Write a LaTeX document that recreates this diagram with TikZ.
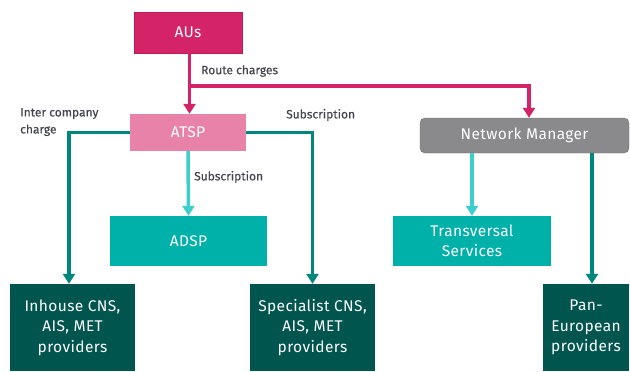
\documentclass[tikz,border=0pt]{standalone}
\usepackage{fontspec}
\setmainfont{Fira Sans}
\newfontfamily\boxfont[LetterSpace=2.5]{Fira Sans}
\newfontfamily\lblfont[FakeBold=0.4]{Fira Sans}
\usetikzlibrary{arrows.meta,calc}
\definecolor{aus}{HTML}{D42467}
\definecolor{atsp}{HTML}{E882A8}
\definecolor{nmgray}{HTML}{8A8A8C}
\definecolor{nmborder}{HTML}{6E6E70}
\definecolor{midteal}{HTML}{00B1A9}
\definecolor{darkteal}{HTML}{00564F}
\definecolor{lineteal}{HTML}{00877D}
\definecolor{linecyan}{HTML}{3CCFCB}
\definecolor{labelgray}{HTML}{44444F}
\tikzset{
  box/.style={rectangle, inner sep=0pt, align=center, text=white, font=\boxfont\fontsize{15.5}{20.5}\selectfont},
  lbl/.style={inner sep=0pt, text=labelgray, font=\lblfont\fontsize{12}{17}\selectfont, align=left},
  conn/.style={line width=3.5pt, -{Triangle[length=10pt,width=12pt]}},
  link/.style={line width=3.5pt}
}
\begin{document}
\begin{tikzpicture}[x=1pt,y=-1pt]
\useasboundingbox (0,0) rectangle (630,372);
\node[box, fill=aus, draw=aus!85!black, minimum width=108pt, minimum height=41pt] (AU) at (188,32.5) {AUs};
\node[box, fill=atsp, minimum width=116pt, minimum height=37pt] (ATSP) at (188,132.5) {ATSP};
\node[box, fill=nmgray, draw=nmborder, rounded corners=5pt, minimum width=209pt, minimum height=35pt] (NM) at (524.5,135.5) {Network Manager};
\node[box, fill=midteal, minimum width=157pt, minimum height=50pt] (ADSP) at (188.5,241) {ADSP};
\node[box, fill=midteal, minimum width=158pt, minimum height=50pt] (TS) at (472,241) {Transversal\\Services};
\node[box, fill=darkteal, minimum width=125pt, minimum height=87pt] (IH) at (72.5,327.5) {Inhouse CNS,\\AIS, MET\\providers};
\node[box, fill=darkteal, minimum width=125pt, minimum height=87pt] (SP) at (312.5,327.5) {Specialist CNS,\\AIS, MET\\providers};
\node[box, fill=darkteal, minimum width=86pt, minimum height=87pt] (PE) at (586,327.5) {Pan-\\European\\providers};

\coordinate (rc) at ($(AU.south)+(1.5,33)$);
\draw[conn, aus] ($(AU.south)+(1.5,0)$) -- ($(ATSP.north)+(1.5,0)$);
\draw[conn, aus] (rc) -| ($(NM.north)+(4.5,0)$);
\draw[conn, lineteal] (ATSP.west) -| ($(IH.north)+(-3.5,0)$);
\draw[conn, lineteal] (ATSP.east) -| (SP.north);
\draw[conn, linecyan] (ATSP.south) -- (ADSP.north);
\draw[conn, linecyan] (TS.north |- NM.south) -- (TS.north);
\draw[conn, lineteal] ($(PE.north |- NM.south)+(6,0)$) -- ($(PE.north)+(6,0)$);

\node[lbl, anchor=west] (l1) at (201,71) {Route charges};
\node[lbl, anchor=north west] (l2) at (20,108) {Inter company\\charge};
\node[lbl, anchor=west] (l3) at (286,115) {Subscription};
\node[lbl, anchor=west] (l4) at (194,177) {Subscription};
\end{tikzpicture}
\end{document}
